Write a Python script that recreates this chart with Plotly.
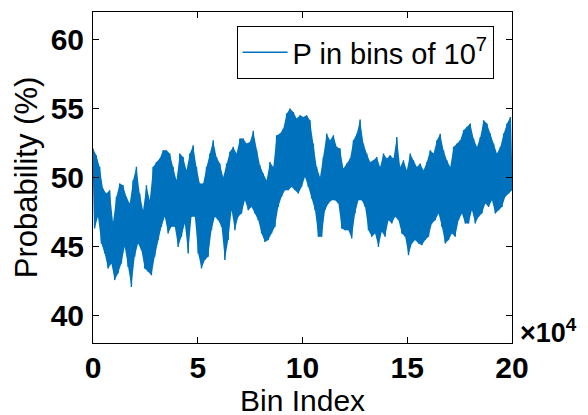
import numpy as np
import plotly.graph_objects as go

# Upper envelope (spike peaks), left to right (%)
p_high = [
    52.10, 51.61, 50.77, 49.20, 48.84, 49.08, 46.78, 48.60, 49.56, 49.44, 48.60,
    48.11, 49.80, 50.77, 48.84, 47.63, 49.44, 48.35, 50.77, 51.13, 51.37,
    51.98, 51.98, 51.74, 50.77, 49.80, 51.74, 51.49, 50.53, 51.74, 52.34, 50.77,
    49.56, 49.56, 50.77, 51.74, 52.70, 51.49, 51.01, 50.04, 51.01, 51.86,
    52.22, 51.74, 52.82, 52.82, 52.46, 52.58, 53.38, 51.98, 50.89, 50.29, 49.80,
    51.13, 50.77, 53.06, 53.18, 53.55, 54.63, 55.00, 54.75, 54.27, 54.51,
    54.39, 54.51, 54.15, 52.46, 50.77, 50.04, 51.49, 53.18, 52.70, 53.06, 52.22,
    52.10, 50.65, 51.01, 51.37, 52.70, 53.18, 54.20, 52.46, 51.74, 51.13,
    51.25, 51.49, 50.77, 51.74, 51.37, 51.61, 51.37, 52.94, 50.77, 51.25, 50.53,
    51.74, 51.25, 50.77, 51.01, 50.53, 51.13, 51.98, 51.74, 52.70, 53.18,
    51.98, 51.25, 50.77, 52.22, 52.46, 52.70, 53.43, 53.67, 53.91, 52.82, 52.22,
    52.94, 54.15, 53.91, 53.18, 52.46, 51.74, 52.22, 53.18, 53.91, 54.39,
]
# Lower envelope (spike troughs), left to right (%)
p_low = [
    46.30, 47.15, 45.21, 44.49, 43.40, 43.76, 42.56, 43.04, 43.76, 44.97, 43.52,
    42.07, 44.25, 45.21, 44.73, 43.40, 43.16, 42.92, 44.25, 45.46, 46.42,
    47.15, 45.94, 46.42, 46.42, 44.97, 45.70, 46.66, 44.49, 47.15, 47.15, 44.49,
    43.40, 44.01, 44.25, 46.18, 47.15, 46.90, 46.42, 44.01, 45.46, 47.63,
    46.18, 47.15, 47.39, 48.35, 47.63, 47.87, 47.39, 46.90, 45.94, 45.33, 45.46,
    45.94, 46.42, 47.87, 48.60, 49.08, 49.08, 49.32, 49.08, 48.84, 49.32,
    50.04, 49.32, 48.47, 47.63, 45.70, 45.70, 47.63, 48.11, 48.35, 48.35, 48.11,
    46.30, 46.18, 46.18, 45.58, 47.39, 48.35, 48.35, 47.87, 46.18, 45.70,
    45.94, 44.97, 46.06, 45.70, 46.90, 46.66, 47.15, 46.90, 45.94, 45.70, 44.37,
    45.21, 45.46, 45.21, 45.09, 45.46, 45.70, 46.66, 46.90, 47.39, 46.42,
    45.21, 45.46, 45.94, 45.70, 46.90, 47.39, 46.66, 46.66, 47.63, 46.66, 47.15,
    47.39, 48.11, 47.87, 48.35, 47.39, 47.63, 47.87, 48.60, 48.84, 49.08,
]

x_tickvals = [0, 50000, 100000, 150000, 200000]
x_ticktext = ["0", "5", "10", "15", "20"]
y_tickvals = [40, 45, 50, 55, 60]

# Interleave peaks and troughs into one series
values = []
for h, l in zip(p_high, p_low):
    values.append(h)
    values.append(l)
bins = np.linspace(0, 200000, len(values))
x_high = bins[0::2]
x_low = bins[1::2]

color = "#0072BD"
fig = go.Figure()
# band between troughs and peaks (same colour, fills the dense core)
fig.add_trace(go.Scatter(
    x=x_low, y=p_low, mode="lines", line=dict(color=color, width=0),
    showlegend=False, hoverinfo="skip",
))
fig.add_trace(go.Scatter(
    x=x_high, y=p_high, mode="lines", line=dict(color=color, width=0),
    fill="tonexty", fillcolor=color, showlegend=False, hoverinfo="skip",
))
fig.add_trace(go.Scatter(
    x=bins, y=values, mode="lines",
    line=dict(color=color, width=1.4),
    name="P in bins of 10<sup>7</sup>",
))

font_family = "Liberation Sans, Arial, sans-serif"
fig.update_layout(
    width=588, height=415,
    margin=dict(l=93, r=76, t=12, b=72, autoexpand=False),
    paper_bgcolor="white", plot_bgcolor="white",
    font=dict(family=font_family, color="black"),
    showlegend=True,
    legend=dict(
        x=0.956, y=0.958, xanchor="right", yanchor="top",
        bgcolor="white", bordercolor="black", borderwidth=1,
        font=dict(size=29, family=font_family, color="black"),
        itemwidth=45,
    ),
    xaxis=dict(
        range=[0, 200000], tickvals=x_tickvals, ticktext=x_ticktext,
        ticks="inside", ticklen=6, tickwidth=1, tickcolor="black",
        showline=True, linecolor="black", linewidth=1, mirror="ticks",
        showgrid=False, zeroline=False, automargin=False,
        tickfont=dict(size=30, family=font_family, color="black", weight="bold"),
        ticklabelstandoff=-2,
    ),
    yaxis=dict(
        range=[38, 62], tickvals=y_tickvals,
        ticks="inside", ticklen=6, tickwidth=1, tickcolor="black",
        showline=True, linecolor="black", linewidth=1, mirror="ticks",
        showgrid=False, zeroline=False, automargin=False,
        tickfont=dict(size=30, family=font_family, color="black", weight="bold"),
        ticklabelstandoff=2,
        title=dict(text="Probability (%)", font=dict(size=31, family=font_family), standoff=3),
    ),
    annotations=[
        dict(
            text="<b>×10<sup>4</sup></b>", xref="paper", yref="paper",
            x=1.015, y=0.035, xanchor="left", yanchor="middle", showarrow=False,
            font=dict(size=27, family=font_family, color="black"),
        ),
        dict(
            text="Bin Index", xref="paper", yref="paper",
            x=0.5, y=-0.173, xanchor="center", yanchor="middle", showarrow=False,
            font=dict(size=30, family=font_family, color="black"),
        ),
    ],
)

fig.write_html("out.html", config={"displayModeBar": False},
               post_script="document.body.style.margin='0';")
